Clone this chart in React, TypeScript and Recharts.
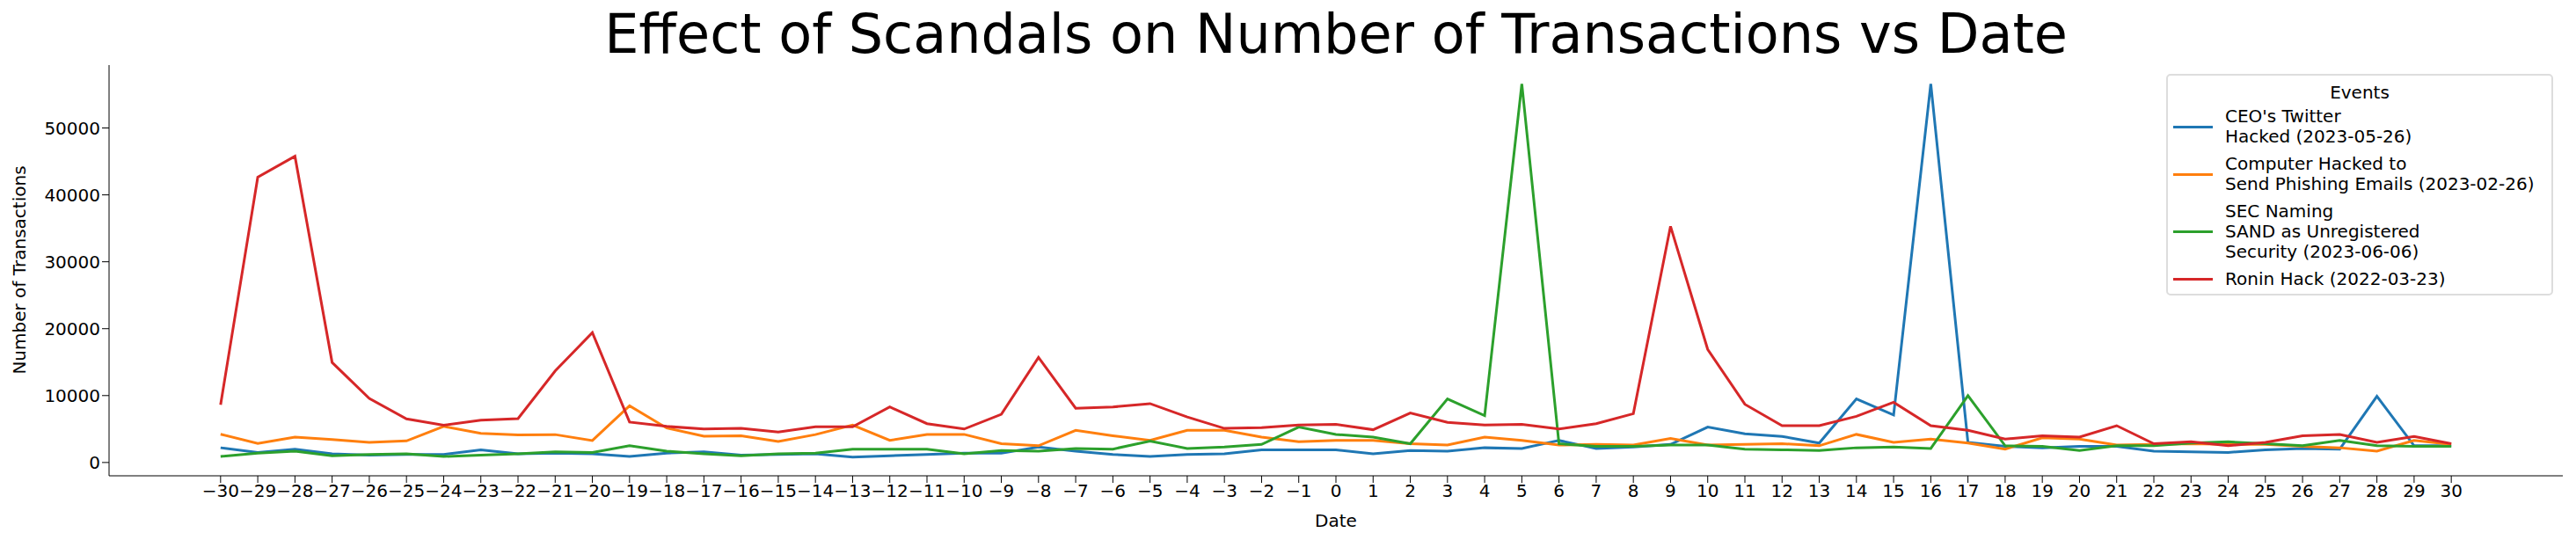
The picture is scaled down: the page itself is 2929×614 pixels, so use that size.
import React from 'react'
import { LineChart, Line, XAxis, YAxis } from 'recharts'

const days = Array.from({ length: 61 }, (_, i) => i - 30)

const ceoTwitter = [2200, 1500, 2000, 1300, 1100, 1200, 1200, 1900, 1300, 1400, 1300, 900, 1400, 1600, 1100, 1200, 1300, 800, 1000, 1200, 1400, 1400, 2300, 1700, 1200, 900, 1200, 1300, 1900, 1900, 1900, 1300, 1800, 1700, 2200, 2100, 3300, 2100, 2300, 2700, 5300, 4300, 3900, 2900, 9500, 7100, 56600, 3000, 2400, 2200, 2400, 2400, 1700, 1600, 1500, 1900, 2100, 2000, 9900, 2500, 2500]
const phishing = [4220, 2860, 3800, 3420, 3000, 3230, 5390, 4360, 4120, 4170, 3280, 8480, 5150, 3940, 3980, 3140, 4170, 5580, 3300, 4200, 4200, 2800, 2500, 4800, 4000, 3300, 4800, 4800, 3800, 3100, 3300, 3300, 2800, 2600, 3800, 3300, 2600, 2700, 2600, 3600, 2600, 2700, 2800, 2500, 4200, 3000, 3500, 2900, 2000, 3700, 3500, 2600, 2700, 2800, 2700, 2700, 2400, 2200, 1700, 3300, 2700]
const secNaming = [900, 1400, 1700, 1000, 1200, 1300, 900, 1100, 1300, 1600, 1500, 2500, 1700, 1300, 1000, 1300, 1400, 2000, 2000, 2000, 1300, 1800, 1700, 2100, 2000, 3200, 2100, 2300, 2700, 5300, 4200, 3800, 2800, 9500, 7000, 56600, 2800, 2400, 2400, 2600, 2600, 2000, 1900, 1800, 2200, 2300, 2100, 10000, 2500, 2400, 1800, 2500, 2500, 2900, 3100, 2800, 2500, 3300, 2500, 2400, 2400]
const ronin = [8620, 42640, 45780, 14950, 9560, 6510, 5580, 6330, 6560, 13680, 19400, 6040, 5390, 5010, 5110, 4550, 5340, 5340, 8300, 5800, 5000, 7200, 15700, 8100, 8300, 8800, 6800, 5100, 5200, 5600, 5700, 4900, 7400, 6000, 5600, 5700, 5000, 5800, 7300, 35300, 16900, 8700, 5500, 5500, 6900, 9000, 5500, 4800, 3500, 4000, 3800, 5500, 2800, 3100, 2500, 3000, 4000, 4200, 3000, 3900, 2800]

const yTicks = [0, 10000, 20000, 30000, 40000, 50000]

const series = [
  { key: 'ceo', color: '#1f77b4', label: ["CEO's Twitter", 'Hacked (2023-05-26)'] },
  { key: 'phish', color: '#ff7f0e', label: ['Computer Hacked to', 'Send Phishing Emails (2023-02-26)'] },
  { key: 'sec', color: '#2ca02c', label: ['SEC Naming', 'SAND as Unregistered', 'Security (2023-06-06)'] },
  { key: 'ronin', color: '#d62728', label: ['Ronin Hack (2022-03-23)'] },
]

const data = days.map((d, i) => ({
  day: d,
  ceo: ceoTwitter[i],
  phish: phishing[i],
  sec: secNaming[i],
  ronin: ronin[i],
}))

const font = 'DejaVu Sans, sans-serif'

export default function App() {
  return (
    <div style={{ position: 'absolute', left: 0, top: 0, width: 2929, height: 614, background: '#fff', fontFamily: font }}>
      <div style={{ position: 'absolute', left: 124, width: 2790, top: 2, textAlign: 'center', fontSize: 62, color: '#000' }}>
        Effect of Scandals on Number of Transactions vs Date
      </div>
      <LineChart width={2929} height={614} data={data} margin={{ top: 74, right: 15, left: 0, bottom: 0 }}>
        <XAxis
          dataKey="day"
          type="number"
          domain={[-33, 33]}
          ticks={days}
          interval={0}
          height={73}
          stroke="#000"
          tickSize={8}
          tick={{ fontSize: 20, fill: '#000', fontFamily: font }}
          tickFormatter={(v) => String(v).replace('-', '\u2212')}
        />
        <YAxis
          type="number"
          domain={[-1990, 59400]}
          ticks={yTicks}
          width={124}
          stroke="#000"
          tickSize={8}
          tick={{ fontSize: 20, fill: '#000', fontFamily: font }}
        />
        {series.map((s) => (
          <Line key={s.key} dataKey={s.key} stroke={s.color} strokeWidth={3} dot={false} isAnimationActive={false} />
        ))}
        <XAxis xAxisId="top" orientation="top" dataKey="day" type="number" domain={[-33, 33]} tick={false} tickLine={false} height={0} stroke="#000" />
        <YAxis yAxisId="right" orientation="right" tick={false} tickLine={false} width={0} stroke="#000" />
      </LineChart>
      <div style={{ position: 'absolute', left: 0, width: 2929, top: 580, textAlign: 'center', fontSize: 20 }}>
        <span style={{ marginLeft: 124 + 2790 - 2929 + 124 }}>Date</span>
      </div>
      <div style={{ position: 'absolute', left: 22, top: 307, fontSize: 20, transform: 'translate(-50%, -50%) rotate(-90deg)', whiteSpace: 'nowrap' }}>
        Number of Transactions
      </div>
      <div style={{ position: 'absolute', left: 2463, top: 84, width: 440, height: 252, border: '2px solid #ddd', borderRadius: 5, boxSizing: 'border-box', fontSize: 20, lineHeight: '23px' }}>
        <div style={{ textAlign: 'center', marginTop: 8, marginBottom: 4 }}>Events</div>
        {series.map((s) => (
          <div key={s.key} style={{ display: 'flex', alignItems: 'center', marginBottom: 8 }}>
            <div style={{ width: 45, height: 3, background: s.color, marginLeft: 6, marginRight: 14 }} />
            <div>{s.label.map((l) => <div key={l} style={{ whiteSpace: 'nowrap' }}>{l}</div>)}</div>
          </div>
        ))}
      </div>
    </div>
  )
}
